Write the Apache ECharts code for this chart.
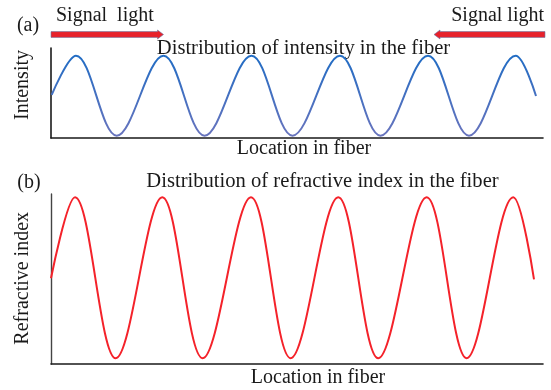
<!DOCTYPE html>
<html>
<head>
<meta charset="utf-8">
<script src="https://cdn.jsdelivr.net/npm/echarts@6/dist/echarts.min.js"></script>
<style>
html,body{margin:0;padding:0;background:#fff;}
#chart{width:551px;height:390px;}
</style>
</head>
<body>
<div id="chart"></div>
<script>
// (a) intensity along fiber: start, alternating peaks/troughs, end
const intensityLocation = [0.14, 5.08, 13.35, 22.87, 31.2, 40.75, 49.09, 58.74, 66.97, 76.63, 84.96, 94.45, 98.58];
const intensityValue    = [0.478, 0.914, 0.026, 0.914, 0.026, 0.914, 0.026, 0.914, 0.026, 0.914, 0.026, 0.914, 0.467];
// (b) refractive index along fiber
const indexLocation = [0, 4.88, 13.15, 22.62, 30.83, 40.65, 48.72, 58.39, 66.52, 76.36, 84.49, 93.96, 98.17];
const indexValue    = [0.504, 0.981, 0.034, 0.981, 0.034, 0.981, 0.034, 0.981, 0.034, 0.981, 0.034, 0.981, 0.498];

const labelA = '(a)';
const labelB = '(b)';
const titleA = 'Distribution of intensity in the fiber';
const titleB = 'Distribution of refractive index in the fiber';
const yNameA = 'Intensity';
const yNameB = 'Refractive index';
const xName = 'Location in fiber';
const signalLeft = 'Signal  light';
const signalRight = 'Signal light';

const pairs = (xs, ys) => xs.map((x, i) => [x, ys[i]]);
const FONT = '"Liberation Serif", "Times New Roman", serif';
const txt = (text, x, y, opts) => Object.assign({
  type: 'text', x: x, y: y, silent: true,
  style: Object.assign({ text: text, font: ((opts && opts.size) || 20) + 'px ' + FONT, fill: '#1a1a1a', align: 'center', verticalAlign: 'middle' }, (opts && opts.style) || {})
}, opts && opts.rotation ? { rotation: opts.rotation } : {});

const axisLine = { show: true, onZero: false, lineStyle: { color: '#1a1a1a', width: 1.6 } };
const hidden = { axisTick: { show: false }, axisLabel: { show: false }, splitLine: { show: false } };

const chart = echarts.init(document.getElementById('chart'), null, { renderer: 'canvas' });
chart.setOption({
  backgroundColor: '#ffffff',
  animation: false,
  grid: [
    { left: 51, right: 8, top: 48, height: 90 },
    { left: 51, right: 8, top: 194, height: 170 }
  ],
  xAxis: [
    Object.assign({ type: 'value', gridIndex: 0, min: 0, max: 100, axisLine: axisLine }, hidden),
    Object.assign({ type: 'value', gridIndex: 1, min: 0, max: 100, axisLine: axisLine }, hidden)
  ],
  yAxis: [
    Object.assign({ type: 'value', gridIndex: 0, min: 0, max: 1, axisLine: axisLine }, hidden),
    Object.assign({ type: 'value', gridIndex: 1, min: 0, max: 1, axisLine: { show: true, onZero: false, lineStyle: { color: '#444', width: 1.4 } } }, hidden)
  ],
  series: [
    {
      type: 'line', xAxisIndex: 0, yAxisIndex: 0,
      data: pairs(intensityLocation, intensityValue),
      showSymbol: false, smooth: 0.36, clip: true,
      lineStyle: {
        width: 2,
        color: new echarts.graphic.LinearGradient(0, 0, 0, 1, [
          { offset: 0, color: '#1f6cc4' }, { offset: 1, color: '#6a74bd' }
        ])
      }
    },
    {
      type: 'line', xAxisIndex: 1, yAxisIndex: 1,
      data: pairs(indexLocation, indexValue),
      showSymbol: false, smooth: 0.36, clip: true,
      lineStyle: { width: 2, color: '#f4222a' }
    }
  ],
  graphic: [
    txt(labelA, 28, 26),
    txt(signalLeft, 56, 16, { style: { align: 'left' } }),
    txt(signalRight, 544, 16, { style: { align: 'right' } }),
    txt(titleA, 303.5, 48.3, { size: 20.6 }),
    txt(yNameA, 23, 85, { rotation: Math.PI / 2 }),
    txt(xName, 304, 148.5),
    txt(labelB, 29, 183),
    txt(titleB, 322.5, 181.7, { size: 20.6 }),
    txt(yNameB, 23, 278.3, { rotation: Math.PI / 2 }),
    txt(xName, 318, 377.5),
    {
      type: 'polygon', silent: true,
      shape: { points: [[51, 31.6], [157.5, 31.6], [157.5, 30], [163.5, 34.5], [157.5, 39], [157.5, 37.4], [51, 37.4]] },
      style: { fill: '#e8212b', stroke: '#6a78a8', lineWidth: 0.6 }
    },
    {
      type: 'polygon', silent: true,
      shape: { points: [[545, 31.6], [440, 31.6], [440, 30], [434, 34.5], [440, 39], [440, 37.4], [545, 37.4]] },
      style: { fill: '#e8212b', stroke: '#6a78a8', lineWidth: 0.6 }
    }
  ]
});
</script>
</body>
</html>
